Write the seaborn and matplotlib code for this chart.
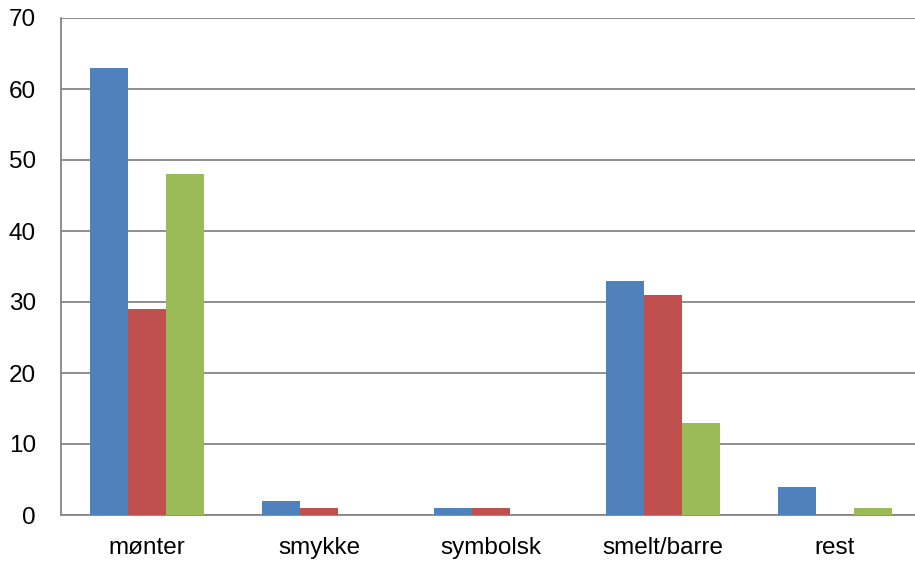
import pandas as pd
import numpy as np
import matplotlib
matplotlib.use("Agg")
import matplotlib.pyplot as plt
import seaborn as sns

# === Data ===
categories = ['mønter', 'smykke', 'symbolsk', 'smelt/barre', 'rest']
series_names = ['Serie 1', 'Serie 2', 'Serie 3']
serie1 = [63, 2, 1, 33, 4]
serie2 = [29, 1, 1, 31, 0]
serie3 = [48, 0, 0, 13, 1]
y_ticks = [0, 10, 20, 30, 40, 50, 60, 70]

colors = ['#4F81BD', '#C0504D', '#9BBB59']

df = pd.DataFrame({
    'kategori': categories * 3,
    'serie': np.repeat(series_names, len(categories)),
    'antall': serie1 + serie2 + serie3,
})

sns.set_theme(style='white')
plt.rcParams['font.family'] = ['Liberation Sans', 'DejaVu Sans']

fig = plt.figure(figsize=(9.15, 5.64), dpi=100)
ax = fig.add_axes([61 / 915, 49 / 564, 860 / 915, 497 / 564])

sns.barplot(data=df, x='kategori', y='antall', hue='serie', palette=colors,
            width=0.66, saturation=1, legend=False, ax=ax, zorder=3,
            linewidth=0)

ax.set_ylim(0, 70)
ax.set_xlim(-0.5, 4.5)
ax.set_yticks(y_ticks)
ax.yaxis.grid(True, color='#868686', linewidth=1.3, zorder=0)
ax.set_axisbelow(True)
ax.set_xlabel('')
ax.set_ylabel('')

for side in ['top', 'right']:
    ax.spines[side].set_visible(False)
for side in ['left', 'bottom']:
    ax.spines[side].set_color('#868686')
    ax.spines[side].set_linewidth(1.3)

ax.tick_params(axis='y', length=0, pad=18, labelsize=17.5, labelcolor='black')
ax.tick_params(axis='x', length=0, pad=16, labelsize=17.5, labelcolor='black')

fig.savefig('out.png', dpi=100)
